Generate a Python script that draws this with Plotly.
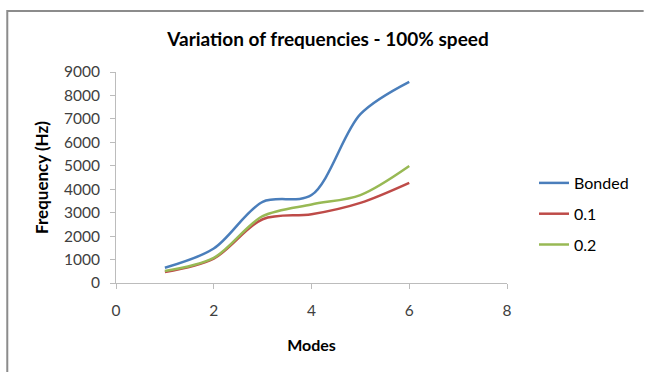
import plotly.graph_objects as go

modes = [1, 2, 3, 4, 5, 6]
bonded = [650, 1470, 3460, 3750, 7200, 8580]
f01 = [470, 1040, 2720, 2935, 3420, 4275]
f02 = [510, 1070, 2850, 3350, 3750, 4990]
series_names = ["Bonded", "0.1", "0.2"]
colors = ["#4A7EBB", "#BE4B48", "#98B954"]

FONT = "Lato"
fig = go.Figure()
for i, (name, ys) in enumerate(zip(series_names, [bonded, f01, f02])):
    fig.add_trace(go.Scatter(
        x=modes, y=ys, name=name, mode="lines",
        line=dict(color=colors[i], width=2.5, shape="spline", smoothing=0.9),
        legendgroup=name,
    ))

L, R, T, B = 116, 137, 72, 89
W, H = 645, 372
pw, ph = W - L - R, H - T - B

def px(x):
    return (x - L) / pw

def py(y):
    return (H - B - y) / ph

axis_common = dict(
    showgrid=False, zeroline=False, showline=True, linecolor="#bcbcbc", linewidth=1,
    ticks="outside", ticklen=5, tickcolor="#bcbcbc",
    tickfont=dict(family=FONT, size=15.5, color="#404040"),
)

fig.update_layout(
    width=W, height=H,
    margin=dict(l=L, r=R, t=T, b=B),
    paper_bgcolor="white", plot_bgcolor="white",
    title=dict(text="Variation of frequencies - 100% speed", xref="container", x=328 / W, xanchor="center",
               y=1 - 39 / H, yanchor="middle",
               font=dict(family=FONT, size=19, color="#000000", weight="bold")),
    xaxis=dict(range=[0, 8], dtick=2, tick0=0, ticklabelstandoff=8,
               title=dict(text="Modes", font=dict(family=FONT, size=16, color="#000", weight="bold"), standoff=22),
               **axis_common),
    yaxis=dict(range=[0, 9000], dtick=1000, tick0=0, ticklabelstandoff=7,
               title=dict(text="Frequency (Hz)", font=dict(family=FONT, size=17, color="#000", weight="bold"), standoff=10),
               **axis_common),
    legend=dict(x=px(534), y=py(166), xanchor="left", yanchor="top",
                font=dict(family=FONT, size=16, color="#000"),
                tracegroupgap=7, bgcolor="rgba(0,0,0,0)"),
    showlegend=True,
    shapes=[
        dict(type="path", xref="paper", yref="paper",
             path=f"M {px(7)} {py(380)} L {px(7)} {py(11)} L {px(645)} {py(11)}",
             line=dict(color="#8c8c8c", width=2)),
    ],
)

fig.write_html("out.html", config={"displayModeBar": False})
